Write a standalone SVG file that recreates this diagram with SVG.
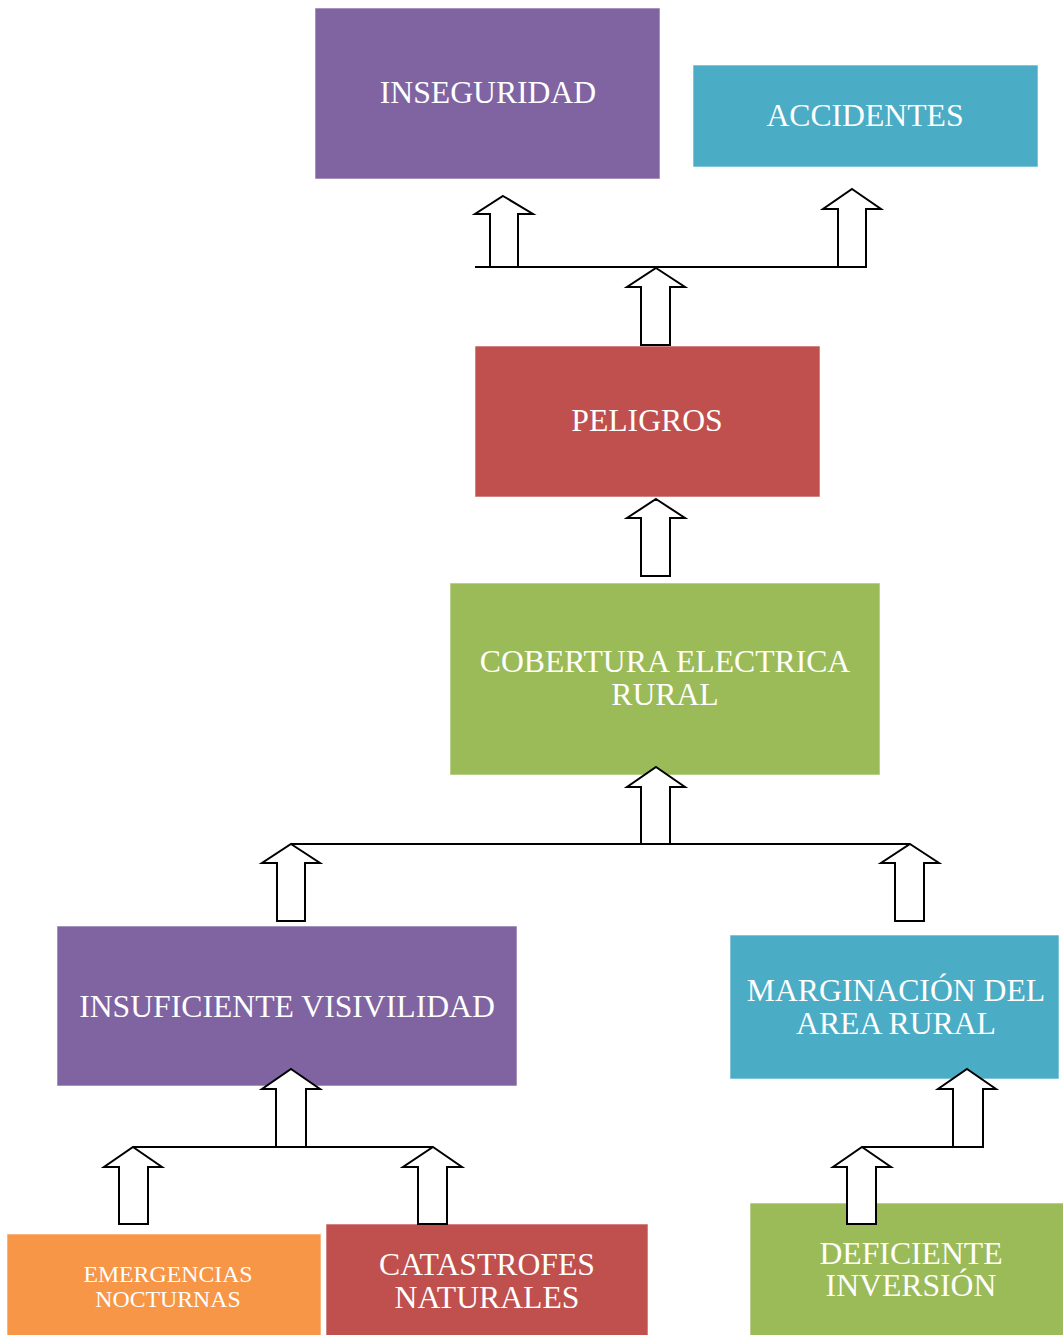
<svg xmlns="http://www.w3.org/2000/svg" width="1063" height="1335" viewBox="0 0 1063 1335">
<style>
.box{stroke:#ffffff;stroke-width:1;stroke-opacity:0.6}
.purple{fill:#8064A2}.blue{fill:#4BACC6}.red{fill:#C0504D}.green{fill:#9BBB59}.orange{fill:#F79646}
text{font-family:"Liberation Serif","Times New Roman",serif;fill:#ffffff;text-anchor:middle;font-size:31.7px}
text.small{font-size:23.8px}
.arrow{fill:#ffffff;stroke:#000000;stroke-width:2;stroke-linejoin:miter}
.line{stroke:#000000;stroke-width:2;fill:none}
</style>
<rect width="1063" height="1335" fill="#ffffff"/>
<g id="inseguridad">
  <rect class="box purple" x="315" y="8" width="345" height="171"/>
  <text x="488" y="103">INSEGURIDAD</text>
</g>
<g id="accidentes">
  <rect class="box blue" x="693" y="65" width="345" height="102"/>
  <text x="865" y="126">ACCIDENTES</text>
</g>
<g id="peligros">
  <rect class="box red" x="475" y="346" width="345" height="151"/>
  <text x="647" y="431">PELIGROS</text>
</g>
<g id="cobertura">
  <rect class="box green" x="450" y="583" width="430" height="192"/>
  <text x="665" y="672">COBERTURA ELECTRICA</text>
  <text x="665" y="705">RURAL</text>
</g>
<g id="insuficiente">
  <rect class="box purple" x="57" y="926" width="460" height="160"/>
  <text x="287" y="1017">INSUFICIENTE VISIVILIDAD</text>
</g>
<g id="marginacion">
  <rect class="box blue" x="730" y="935" width="329" height="144"/>
  <text x="896" y="1001">MARGINACIÓN DEL</text>
  <text x="896" y="1034">AREA RURAL</text>
</g>
<g id="emergencias">
  <rect class="box orange" x="7" y="1234" width="314" height="102"/>
  <text class="small" x="168" y="1282">EMERGENCIAS</text>
  <text class="small" x="168" y="1307">NOCTURNAS</text>
</g>
<g id="catastrofes">
  <rect class="box red" x="326" y="1224" width="322" height="112"/>
  <text x="487" y="1275">CATASTROFES</text>
  <text x="487" y="1308">NATURALES</text>
</g>
<g id="deficiente">
  <rect class="box green" x="750" y="1203" width="314" height="133"/>
  <text x="911" y="1264">DEFICIENTE</text>
  <text x="911" y="1296">INVERSIÓN</text>
</g>
<g id="connectors">
  <line class="line" x1="475" y1="267" x2="866" y2="267"/>
  <line class="line" x1="291" y1="844" x2="910" y2="844"/>
  <line class="line" x1="133" y1="1147" x2="433" y2="1147"/>
  <line class="line" x1="862" y1="1147" x2="983" y2="1147"/>
  <polygon class="arrow" points="503,196 533,214 518,214 518,267 490,267 490,214 475,214"/>
  <polygon class="arrow" points="852,189 881,209 866,209 866,267 838,267 838,209 823,209"/>
  <polygon class="arrow" points="656,268 685,287 670,287 670,345 641,345 641,287 627,287"/>
  <polygon class="arrow" points="656,499 685,518 670,518 670,576 641,576 641,518 627,518"/>
  <polygon class="arrow" points="656,767 685,787 670,787 670,844 641,844 641,787 627,787"/>
  <polygon class="arrow" points="291,844 320,863 305,863 305,921 277,921 277,863 262,863"/>
  <polygon class="arrow" points="910,844 939,863 924,863 924,921 895,921 895,863 881,863"/>
  <polygon class="arrow" points="291,1069 320,1089 306,1089 306,1147 276,1147 276,1089 262,1089"/>
  <polygon class="arrow" points="133,1147 162,1167 148,1167 148,1224 119,1224 119,1167 104,1167"/>
  <polygon class="arrow" points="433,1147 462,1167 447,1167 447,1224 418,1224 418,1167 403,1167"/>
  <polygon class="arrow" points="967,1069 996,1089 983,1089 983,1147 953,1147 953,1089 938,1089"/>
  <polygon class="arrow" points="862,1147 891,1167 876,1167 876,1224 847,1224 847,1167 833,1167"/>
</g>
</svg>
